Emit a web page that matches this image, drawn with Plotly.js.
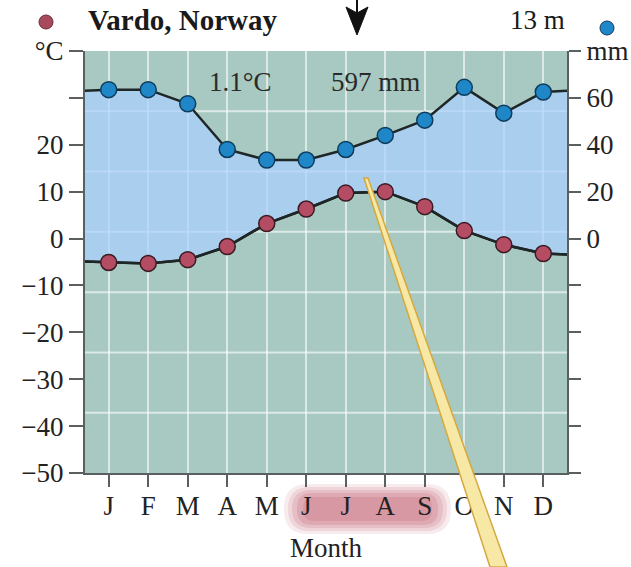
<!DOCTYPE html>
<html>
<head>
<meta charset="utf-8">
<script src="https://cdn.plot.ly/plotly-3.0.1.min.js"></script>
<style>html,body{margin:0;padding:0;background:#fff;}#chart{width:631px;height:567px;}</style>
</head>
<body>
<div id="chart"></div>
<script>
// ---- data ----
const months = ['J','F','M','A','M','J','J','A','S','O','N','D'];
const monthIndex = [1,2,3,4,5,6,7,8,9,10,11,12];
const temperatureC = [-5.1,-5.3,-4.5,-1.7,3.2,6.3,9.7,10.0,6.8,1.7,-1.3,-3.2];
const precipitationMm = [63.5,63.5,57.5,38,33.5,33.5,38,44,50.5,64.5,53.5,62.5];
// values where the curves meet the left / right frame of the plot
const temperatureEdgeC = [-4.9,-3.4];
const precipitationEdgeMm = [63,63];

const tempTickVals = [-50,-40,-30,-20,-10,0,10,20,30,40];
const tempTickText = ['\u221250','\u221240','\u221230','\u221220','\u221210','0','10','20','','\u00b0C'];
const precTickVals = [-100,-80,-60,-40,-20,0,20,40,60,80];
const precTickText = ['','','','','','0','20','40','60','mm'];

const station = 'Vardo, Norway';
const elevation = '13 m';
const meanTemp = '1.1\u00b0C';
const totalPrecip = '597 mm';
const xTitle = 'Month';

// ---- layout constants ----
const xRange = [0.4, 12.6];
const W = 631, H = 567;
const M = {l:85, r:64, t:51, b:94};
const PW = W - M.l - M.r, PH = H - M.t - M.b;
const px = x => (x - M.l) / PW;
const py = y => (H - M.b - y) / PH;

const xAll = [xRange[0]].concat(monthIndex, [xRange[1]]);
const tAll = [temperatureEdgeC[0]].concat(temperatureC, [temperatureEdgeC[1]]);
const pAll = [precipitationEdgeMm[0]].concat(precipitationMm, [precipitationEdgeMm[1]]);
// precipitation expressed on the temperature scale (20 mm per 10 °C) for the fill between curves
const pOnTempScale = pAll.map(v => v / 2);

const serif = 'Liberation Serif, Times New Roman, serif';
const lineCol = '#1e2626';
const FS = 27;

const traces = [
  {x: xAll, y: tAll, mode: 'lines', line: {color: lineCol, width: 2.5}, yaxis: 'y', showlegend: false, hoverinfo: 'skip'},
  {x: xAll, y: pOnTempScale, mode: 'lines', line: {width: 0, color: 'rgba(0,0,0,0)'}, fill: 'tonexty',
   fillcolor: 'rgba(172,208,255,0.72)', yaxis: 'y', showlegend: false, hoverinfo: 'skip'},
  {x: xAll, y: tAll, mode: 'lines', line: {color: lineCol, width: 2.5}, yaxis: 'y', showlegend: false},
  {x: monthIndex, y: temperatureC, mode: 'markers', yaxis: 'y', showlegend: false,
   marker: {size: 16, color: '#b44d64', line: {color: '#3b1a22', width: 1.5}}},
  {x: xAll, y: pAll, mode: 'lines', line: {color: lineCol, width: 2.5}, yaxis: 'y2', showlegend: false},
  {x: monthIndex, y: precipitationMm, mode: 'markers', yaxis: 'y2', showlegend: false,
   marker: {size: 16, color: '#1f87c8', line: {color: '#0e3c5c', width: 1.5}}}
];

const shapes = [];
// horizontal white grid (7 equal bands)
for (let k = 1; k < 7; k++) {
  shapes.push({type: 'line', xref: 'paper', yref: 'paper', x0: 0, x1: 1, y0: k/7, y1: k/7,
    layer: 'below', line: {color: 'rgba(255,255,255,0.6)', width: 2}});
}
// rounded pink highlight behind summer months (layered to look soft)
function roundRect(x0, y0, x1, y1, r) {
  const X0 = px(x0), X1 = px(x1), Y0 = py(y0), Y1 = py(y1);
  const rx = r / PW, ry = r / PH;
  return `M${X0+rx},${Y0} L${X1-rx},${Y0} Q${X1},${Y0} ${X1},${Y0-ry} L${X1},${Y1+ry} Q${X1},${Y1} ${X1-rx},${Y1} ` +
         `L${X0+rx},${Y1} Q${X0},${Y1} ${X0},${Y1+ry} L${X0},${Y0-ry} Q${X0},${Y0} ${X0+rx},${Y0} Z`;
}
[[284,484,451,534,24,0.10],[288,487,447,531,22,0.12],[292,490,443,528,19,0.15],[297,493,438,525,15,0.16],[303,497,432,521,11,0.15]]
  .forEach(r => shapes.push({type: 'path', xref: 'paper', yref: 'paper', layer: 'below',
    path: roundRect(r[0], r[1], r[2], r[3], r[4]), fillcolor: `rgba(180,60,80,${r[5]})`, line: {width: 0}}));
// legend dots next to the title
shapes.push({type: 'circle', xref: 'paper', yref: 'paper', xsizemode: 'pixel', ysizemode: 'pixel',
  xanchor: px(46), yanchor: py(22), x0: -7, x1: 7, y0: -7, y1: 7,
  fillcolor: '#a84a5c', line: {color: '#6a2a36', width: 1}});
shapes.push({type: 'circle', xref: 'paper', yref: 'paper', xsizemode: 'pixel', ysizemode: 'pixel',
  xanchor: px(607), yanchor: py(28), x0: -7, x1: 7, y0: -7, y1: 7,
  fillcolor: '#1f87c8', line: {color: '#0e3c5c', width: 1}});
// black arrow at top
shapes.push({type: 'path', xref: 'paper', yref: 'paper',
  path: `M${px(346)},${py(7)} L${px(357)},${py(13)} L${px(368)},${py(7)} L${px(357)},${py(35)} Z`,
  fillcolor: '#111', line: {color: '#111', width: 1}});
shapes.push({type: 'line', xref: 'paper', yref: 'paper', x0: px(357), x1: px(357), y0: py(0), y1: py(14),
  line: {color: '#111', width: 2}});
// yellow pointer stripe
shapes.push({type: 'path', xref: 'paper', yref: 'paper', layer: 'above',
  path: `M${px(364)},${py(178)} L${px(368)},${py(178)} L${px(507)},${py(567)} L${px(490)},${py(567)} Z`,
  fillcolor: '#f7e8a6', line: {color: '#d6a840', width: 1.5}});

const annotations = [
  {text: '<b>' + station + '</b>', xref: 'paper', yref: 'paper', x: px(86), y: py(20), xanchor: 'left', yanchor: 'middle',
   showarrow: false, font: {family: serif, size: 29, color: '#1a1a1a'}},
  {text: elevation, xref: 'paper', yref: 'paper', x: px(567), y: py(20), xanchor: 'right', yanchor: 'middle',
   showarrow: false, font: {family: serif, size: 27, color: '#1a1a1a'}},
  {text: meanTemp, xref: 'paper', yref: 'paper', x: px(240), y: py(82), xanchor: 'center', yanchor: 'middle',
   showarrow: false, font: {family: serif, size: 27, color: '#2a2a2a'}},
  {text: totalPrecip, xref: 'paper', yref: 'paper', x: px(375), y: py(82), xanchor: 'center', yanchor: 'middle',
   showarrow: false, font: {family: serif, size: 27, color: '#2a2a2a'}}
];

const layout = {
  width: W, height: H,
  margin: M,
  paper_bgcolor: '#ffffff',
  plot_bgcolor: '#a7c9c1',
  showlegend: false,
  font: {family: serif, size: FS, color: '#222'},
  xaxis: {
    range: xRange, tickvals: monthIndex, ticktext: months,
    showgrid: true, gridcolor: 'rgba(255,255,255,0.6)', gridwidth: 2,
    zeroline: false, showline: true, linecolor: '#5a5f5f', linewidth: 2,
    ticks: 'outside', ticklen: 12, tickwidth: 2, tickcolor: '#5a5f5f', ticklabelstandoff: -4,
    tickfont: {family: serif, size: FS, color: '#222'},
    title: {text: xTitle, font: {family: serif, size: 27, color: '#222'}, standoff: 18},
    fixedrange: true
  },
  yaxis: {
    range: [-50, 40], tickvals: tempTickVals, ticktext: tempTickText,
    showgrid: false, zeroline: false, showline: true, linecolor: '#5a5f5f', linewidth: 2,
    ticks: 'outside', ticklen: 14, tickwidth: 2, tickcolor: '#5a5f5f',
    tickfont: {family: serif, size: FS, color: '#222'}, side: 'left', fixedrange: true
  },
  yaxis2: {
    range: [-100, 80], tickvals: precTickVals, ticktext: precTickText,
    overlaying: 'y', side: 'right',
    showgrid: false, zeroline: false, showline: true, linecolor: '#5a5f5f', linewidth: 2,
    ticks: 'outside', ticklen: 12, tickwidth: 2, tickcolor: '#5a5f5f',
    tickfont: {family: serif, size: FS, color: '#222'}, fixedrange: true
  },
  shapes: shapes,
  annotations: annotations
};

Plotly.newPlot('chart', traces, layout, {displayModeBar: false, staticPlot: true});
</script>
</body>
</html>
